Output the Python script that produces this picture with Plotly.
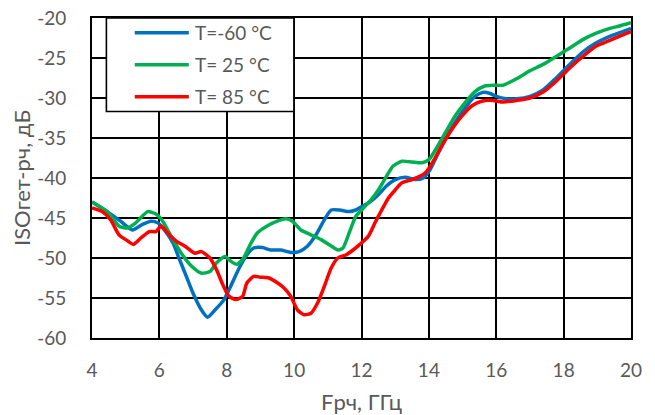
import plotly.graph_objects as go

# Isolation vs RF frequency at three temperatures
freq_m60 = [4.0, 4.45, 4.85, 5.2, 5.5, 5.75, 5.95, 6.15, 6.4, 6.6, 6.8, 7.0, 7.25, 7.43,
            7.65, 7.92, 8.12, 8.37, 8.6, 8.8, 9.06, 9.3, 9.6, 9.9, 10.15, 10.4, 10.65,
            10.9, 11.1, 11.35, 11.63, 11.83, 12.0, 12.25, 12.5, 12.74, 13.0, 13.3, 13.6,
            13.83, 14.03, 14.23, 14.48, 14.77, 15.07, 15.37, 15.6, 15.8, 16.0, 16.3, 16.6,
            17.0, 17.39, 17.78, 18.18, 18.57, 18.97, 19.37, 19.76, 20.0]
iso_m60 = [-43.0, -44.2, -45.4, -46.5, -45.8, -45.4, -45.6, -46.5, -48.1, -50.2, -52.3,
           -54.4, -56.5, -57.4, -56.5, -55.2, -53.5, -51.25, -49.6, -48.75, -48.7, -49.0,
           -49.0, -49.3, -49.2, -48.5, -47.1, -45.2, -44.0, -44.0, -44.2, -44.0, -43.6,
           -43.0, -42.1, -41.0, -40.2, -39.9, -40.2, -40.0, -39.0, -37.3, -35.2, -33.1,
           -31.25, -29.8, -29.3, -29.4, -29.8, -30.1, -30.1, -29.8, -29.0, -27.5, -25.8,
           -24.25, -23.1, -22.3, -21.7, -21.3]

freq_25 = [4.0, 4.45, 4.8, 5.05, 5.3, 5.65, 5.9, 6.1, 6.35, 6.65, 6.95, 7.25, 7.5, 7.7,
           7.95, 8.12, 8.3, 8.5, 8.7, 8.9, 9.2, 9.5, 9.75, 9.95, 10.2, 10.5, 10.8, 11.1,
           11.3, 11.45, 11.63, 11.83, 12.0, 12.25, 12.5, 12.74, 12.94, 13.2, 13.5, 13.8,
           14.0, 14.23, 14.48, 14.77, 15.07, 15.37, 15.66, 15.9, 16.2, 16.6, 17.0, 17.39,
           17.78, 18.18, 18.57, 18.97, 19.37, 19.66, 20.0]
iso_25 = [-43.0, -44.2, -46.0, -46.25, -45.6, -44.2, -44.5, -45.4, -47.3, -49.4, -51.0,
          -51.9, -51.7, -50.6, -49.8, -50.4, -50.8, -50.0, -48.3, -46.9, -46.0, -45.4,
          -45.1, -45.4, -46.5, -47.1, -47.7, -48.5, -49.0, -48.75, -46.9, -44.8, -44.0,
          -42.9, -41.5, -39.8, -38.5, -37.9, -38.0, -38.1, -37.7, -36.25, -34.4, -32.3,
          -30.6, -29.2, -28.5, -28.4, -28.4, -27.6, -26.6, -25.8, -24.8, -23.75, -22.7,
          -21.9, -21.3, -21.0, -20.6]

freq_85 = [4.0, 4.3, 4.55, 4.8, 5.0, 5.23, 5.45, 5.7, 5.9, 6.05, 6.25, 6.5, 6.75, 7.05,
           7.25, 7.5, 7.7, 7.9, 8.07, 8.27, 8.47, 8.6, 8.8, 9.0, 9.25, 9.5, 9.7, 9.9,
           10.1, 10.3, 10.5, 10.7, 10.9, 11.1, 11.3, 11.55, 11.75, 11.95, 12.2, 12.4,
           12.6, 12.8, 13.0, 13.2, 13.5, 13.73, 13.93, 14.13, 14.38, 14.67, 14.97, 15.27,
           15.56, 15.9, 16.2, 16.6, 17.0, 17.39, 17.78, 18.18, 18.57, 18.97, 19.37, 19.76,
           20.0]
iso_85 = [-43.75, -44.2, -45.2, -47.1, -47.7, -48.3, -47.5, -46.7, -46.7, -46.0, -46.9,
          -47.9, -48.5, -49.4, -49.2, -50.0, -51.5, -53.5, -54.8, -55.2, -54.8, -53.1,
          -52.3, -52.4, -52.5, -53.1, -53.75, -54.8, -56.5, -57.1, -56.9, -55.6, -53.5,
          -51.25, -50.0, -49.6, -49.0, -48.3, -47.3, -45.6, -44.0, -42.5, -41.5, -40.6,
          -40.2, -39.8, -39.2, -37.9, -36.0, -34.0, -32.3, -31.0, -30.4, -30.3, -30.5,
          -30.3, -30.0, -29.25, -27.9, -26.25, -24.8, -23.5, -22.8, -22.1, -21.7]

series_names = ["T=-60 °C", "T= 25 °C", "T= 85 °C"]
series_colors = ["#0070C0", "#00B050", "#FF0000"]
series_x = [freq_m60, freq_25, freq_85]
series_y = [iso_m60, iso_25, iso_85]

x_ticks = [4, 6, 8, 10, 12, 14, 16, 18, 20]
y_ticks = [-60, -55, -50, -45, -40, -35, -30, -25, -20]

FONT = "Lato"
TEXT_GRAY = "#595959"

fig = go.Figure()
for name, color, xs, ys in zip(series_names, series_colors, series_x, series_y):
    fig.add_trace(go.Scatter(
        x=xs, y=ys, name=name, mode="lines",
        line=dict(color=color, width=3.5, shape="spline", smoothing=0.6),
        showlegend=False,
    ))

# Boxed legend in the upper-left corner of the plot area
shapes = [dict(type="rect", xref="paper", yref="paper",
               x0=0.0267, x1=0.3746, y0=0.708, y1=1.0,
               fillcolor="white", line=dict(color="black", width=1.6), layer="above")]
annotations = []
row_y = [0.954, 0.854, 0.754]
for name, color, yy in zip(series_names, series_colors, row_y):
    shapes.append(dict(type="line", xref="paper", yref="paper",
                       x0=0.0793, x1=0.1796, y0=yy, y1=yy,
                       line=dict(color=color, width=3.5), layer="above"))
    annotations.append(dict(xref="paper", yref="paper", x=0.187, y=yy,
                            xanchor="left", yanchor="middle", text=name,
                            showarrow=False,
                            font=dict(family=FONT, size=19, color=TEXT_GRAY)))

axis_common = dict(
    showgrid=True, gridcolor="black", gridwidth=1.6,
    showline=True, linecolor="black", linewidth=1.6, mirror=True,
    ticks="", zeroline=False, automargin=False,
    tickfont=dict(family=FONT, size=19, color=TEXT_GRAY),
)

fig.update_layout(
    width=655, height=415,
    margin=dict(l=92, r=24, t=18, b=77),
    paper_bgcolor="white", plot_bgcolor="white",
    font=dict(family=FONT, color=TEXT_GRAY),
    shapes=shapes, annotations=annotations,
    xaxis=dict(range=[4, 20], tickvals=x_ticks, ticktext=[str(v) for v in x_ticks],
               ticklabelstandoff=14,
               title=dict(text="Fрч, ГГц", font=dict(family=FONT, size=22, color=TEXT_GRAY),
                          standoff=16),
               **axis_common),
    yaxis=dict(range=[-60, -20], tickvals=y_ticks, ticktext=[str(v) for v in y_ticks],
               ticklabelstandoff=20,
               title=dict(text="ISOгет-рч, дБ", font=dict(family=FONT, size=22, color=TEXT_GRAY),
                          standoff=1),
               **axis_common),
)

fig.write_html("out.html")
